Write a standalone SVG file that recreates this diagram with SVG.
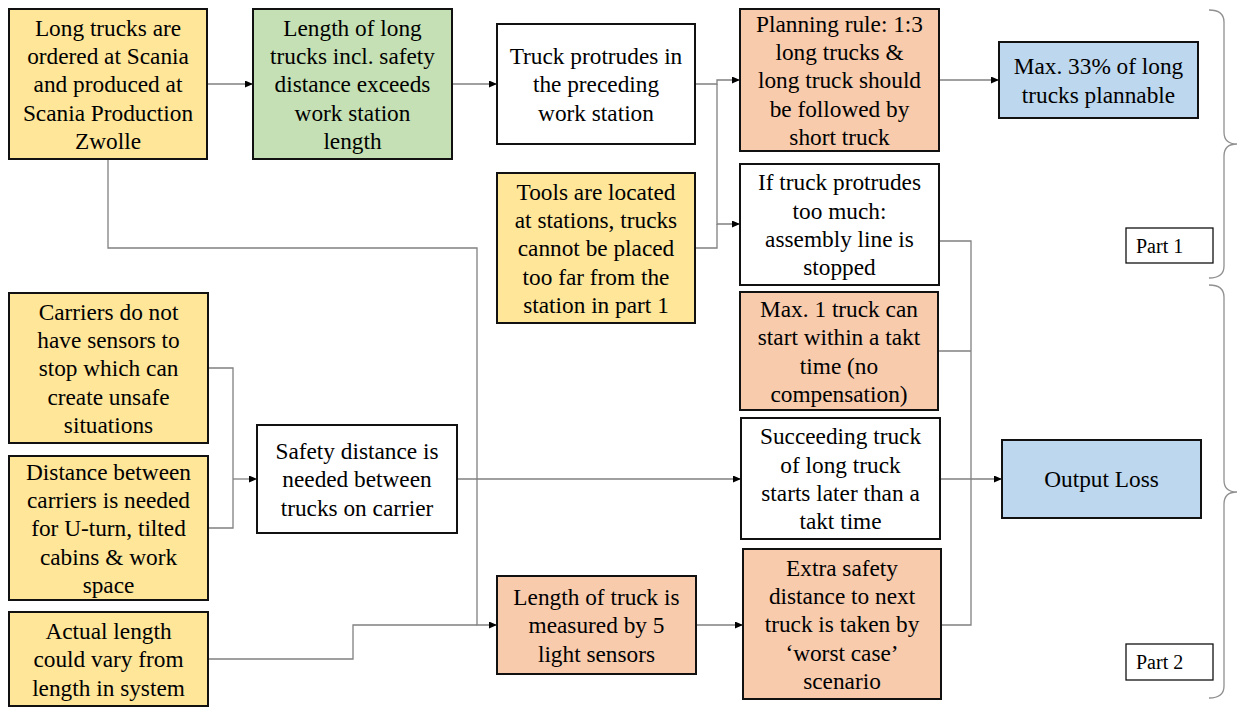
<svg xmlns="http://www.w3.org/2000/svg" width="1237" height="707" viewBox="0 0 1237 707">
<defs>
<style>
.box{stroke:#111;stroke-width:2}
.y{fill:#FFE699}.g{fill:#C5E0B4}.o{fill:#F8CBAD}.b{fill:#BDD7EE}.w{fill:#FFFFFF}
text{font-size:23.3px;fill:#000;text-anchor:middle}
.lbl{font-size:20px;text-anchor:start}
.c{fill:none;stroke:#808080;stroke-width:1.3}
.brace{fill:none;stroke:#909090;stroke-width:1.3}
.pb{fill:#fff;stroke:#111;stroke-width:1.3}
</style>
<marker id="arr" markerUnits="userSpaceOnUse" markerWidth="9" markerHeight="8" refX="8" refY="3.5" orient="auto">
<path d="M0,0 L8,3.5 L0,7 z" fill="#000"/>
</marker>
</defs>
<rect width="1237" height="707" fill="#fff"/>

<g id="connectors">
<path class="c" d="M207,84 H253" marker-end="url(#arr)"/>
<path class="c" d="M452,84 H497" marker-end="url(#arr)"/>
<path class="c" d="M695,84 H717 V80 H740" marker-end="url(#arr)"/>
<path class="c" d="M717,84 V224 H740" marker-end="url(#arr)"/>
<path class="c" d="M695,248 H717 V224"/>
<path class="c" d="M939,80 H999" marker-end="url(#arr)"/>
<path class="c" d="M108,159 V248 H477 V625 H497" marker-end="url(#arr)"/>
<path class="c" d="M208,659 H353 V625 H477"/>
<path class="c" d="M208,368 H233 V528 H208"/>
<path class="c" d="M233,479 H257" marker-end="url(#arr)"/>
<path class="c" d="M457,479 H741" marker-end="url(#arr)"/>
<path class="c" d="M696,625 H743" marker-end="url(#arr)"/>
<path class="c" d="M939,241 H971 V625 H941"/>
<path class="c" d="M938,351 H971"/>
<path class="c" d="M940,479 H1002" marker-end="url(#arr)"/>
</g>

<g id="nodes" font-family="Liberation Serif, Times New Roman, serif">
<g id="n1">
<rect class="box y" x="9" y="9" width="198" height="150"/>
<text x="108" y="35.7"><tspan x="108">Long trucks are</tspan><tspan x="108" dy="28.3">ordered at Scania</tspan><tspan x="108" dy="28.3">and produced at</tspan><tspan x="108" dy="28.3">Scania Production</tspan><tspan x="108" dy="28.3">Zwolle</tspan></text>
</g>
<g id="n2">
<rect class="box g" x="253" y="9" width="199" height="150"/>
<text x="352.5" y="35.7"><tspan x="352.5">Length of long</tspan><tspan x="352.5" dy="28.3">trucks incl. safety</tspan><tspan x="352.5" dy="28.3">distance exceeds</tspan><tspan x="352.5" dy="28.3">work station</tspan><tspan x="352.5" dy="28.3">length</tspan></text>
</g>
<g id="n3">
<rect class="box w" x="497" y="24" width="198" height="120"/>
<text x="596" y="64"><tspan x="596">Truck protrudes in</tspan><tspan x="596" dy="28.3">the preceding</tspan><tspan x="596" dy="28.3">work station</tspan></text>
</g>
<g id="n4">
<rect class="box y" x="497" y="173" width="198" height="150"/>
<text x="596" y="199.7"><tspan x="596">Tools are located</tspan><tspan x="596" dy="28.3">at stations, trucks</tspan><tspan x="596" dy="28.3">cannot be placed</tspan><tspan x="596" dy="28.3">too far from the</tspan><tspan x="596" dy="28.3">station in part 1</tspan></text>
</g>
<g id="n5">
<rect class="box o" x="740" y="9" width="199" height="142"/>
<text x="839.5" y="31.7"><tspan x="839.5">Planning rule: 1:3</tspan><tspan x="839.5" dy="28.3">long trucks &amp;</tspan><tspan x="839.5" dy="28.3">long truck should</tspan><tspan x="839.5" dy="28.3">be followed by</tspan><tspan x="839.5" dy="28.3">short truck</tspan></text>
</g>
<g id="n6">
<rect class="box w" x="740" y="164" width="199" height="121"/>
<text x="839.5" y="190.3"><tspan x="839.5">If truck protrudes</tspan><tspan x="839.5" dy="28.3">too much:</tspan><tspan x="839.5" dy="28.3">assembly line is</tspan><tspan x="839.5" dy="28.3">stopped</tspan></text>
</g>
<g id="n7">
<rect class="box b" x="999" y="42" width="199" height="76"/>
<text x="1098.5" y="74.2"><tspan x="1098.5">Max. 33% of long</tspan><tspan x="1098.5" dy="28.3">trucks plannable</tspan></text>
</g>
<g id="part1">
<rect class="pb" x="1126" y="228" width="87" height="35"/>
<text class="lbl" x="1136" y="253">Part 1</text>
</g>
<g id="n8">
<rect class="box y" x="9" y="293" width="199" height="150"/>
<text x="108.5" y="319.7"><tspan x="108.5">Carriers do not</tspan><tspan x="108.5" dy="28.3">have sensors to</tspan><tspan x="108.5" dy="28.3">stop which can</tspan><tspan x="108.5" dy="28.3">create unsafe</tspan><tspan x="108.5" dy="28.3">situations</tspan></text>
</g>
<g id="n9">
<rect class="box y" x="9" y="456" width="199" height="144"/>
<text x="108.5" y="479.7"><tspan x="108.5">Distance between</tspan><tspan x="108.5" dy="28.3">carriers is needed</tspan><tspan x="108.5" dy="28.3">for U-turn, tilted</tspan><tspan x="108.5" dy="28.3">cabins &amp; work</tspan><tspan x="108.5" dy="28.3">space</tspan></text>
</g>
<g id="n10">
<rect class="box y" x="9" y="612" width="199" height="94"/>
<text x="108.5" y="639"><tspan x="108.5">Actual length</tspan><tspan x="108.5" dy="28.3">could vary from</tspan><tspan x="108.5" dy="28.3">length in system</tspan></text>
</g>
<g id="n11">
<rect class="box w" x="257" y="425" width="200" height="108"/>
<text x="357" y="459"><tspan x="357">Safety distance is</tspan><tspan x="357" dy="28.3">needed between</tspan><tspan x="357" dy="28.3">trucks on carrier</tspan></text>
</g>
<g id="n12">
<rect class="box o" x="497" y="576" width="199" height="98"/>
<text x="596.5" y="605"><tspan x="596.5">Length of truck is</tspan><tspan x="596.5" dy="28.3">measured by 5</tspan><tspan x="596.5" dy="28.3">light sensors</tspan></text>
</g>
<g id="n13">
<rect class="box o" x="740" y="292" width="198" height="118"/>
<text x="839" y="316.9"><tspan x="839">Max. 1 truck can</tspan><tspan x="839" dy="28.3">start within a takt</tspan><tspan x="839" dy="28.3">time (no</tspan><tspan x="839" dy="28.3">compensation)</tspan></text>
</g>
<g id="n14">
<rect class="box w" x="741" y="418" width="199" height="121"/>
<text x="840.5" y="444.3"><tspan x="840.5">Succeeding truck</tspan><tspan x="840.5" dy="28.3">of long truck</tspan><tspan x="840.5" dy="28.3">starts later than a</tspan><tspan x="840.5" dy="28.3">takt time</tspan></text>
</g>
<g id="n15">
<rect class="box o" x="743" y="549" width="198" height="150"/>
<text x="842" y="575.7"><tspan x="842">Extra safety</tspan><tspan x="842" dy="28.3">distance to next</tspan><tspan x="842" dy="28.3">truck is taken by</tspan><tspan x="842" dy="28.3">‘worst case’</tspan><tspan x="842" dy="28.3">scenario</tspan></text>
</g>
<g id="n16">
<rect class="box b" x="1002" y="440" width="199" height="78"/>
<text x="1101.5" y="487.3">Output Loss</text>
</g>
<g id="part2">
<rect class="pb" x="1126" y="644" width="87" height="36"/>
<text class="lbl" x="1136" y="669">Part 2</text>
</g>
</g>
<g id="braces">
<path class="brace" d="M1209,10 Q1224,10 1224,22 L1224,132 Q1224,144 1237,144 Q1224,144 1224,156 L1224,266 Q1224,278 1209,278"/>
<path class="brace" d="M1209,285 Q1224,285 1224,297 L1224,480 Q1224,492 1237,492 Q1224,492 1224,504 L1224,686 Q1224,698 1209,698"/>
</g>
</svg>
